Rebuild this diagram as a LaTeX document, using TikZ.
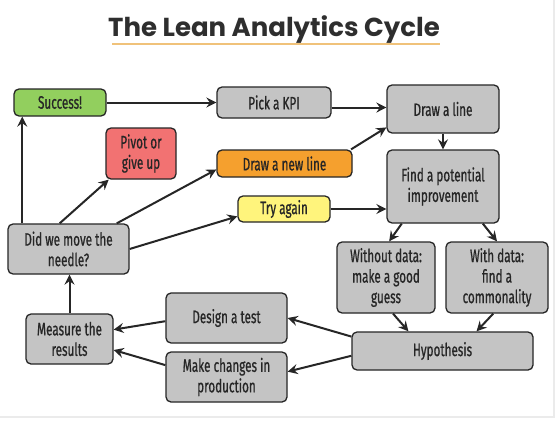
\documentclass[tikz,border=0pt]{standalone}
\usepackage{fontspec}
\setmainfont{Fira Sans}[FakeStretch=0.65, FakeBold=0.8]
\newfontfamily\titlefont{Poppins}
\usetikzlibrary{arrows.meta, calc}
\definecolor{boxgray}{HTML}{C4C4C4}
\definecolor{okgreen}{HTML}{92CF5E}
\definecolor{pivred}{HTML}{F27272}
\definecolor{neworange}{HTML}{F5A02E}
\definecolor{tryyellow}{HTML}{FFF47C}
\definecolor{linec}{HTML}{262626}
\definecolor{titlec}{HTML}{2E2E2E}
\definecolor{ulc}{HTML}{F0C27A}
\tikzset{%
    blk/.style={draw=linec, line width=1.3pt, rounded corners=5pt, fill=boxgray, align=center,
        inner sep=0pt, text=linec, font=\fontsize{18}{20.5}\selectfont},
    blkg/.style={blk, fill=okgreen},
    blkr/.style={blk, fill=pivred},
    blko/.style={blk, fill=neworange},
    blky/.style={blk, fill=tryyellow},
    pria/.style={line width=2pt, draw=linec, -{Stealth[length=10pt, width=10pt, inset=3.5pt]}},
}
\begin{document}
\begin{tikzpicture}[x=1pt, y=-1pt]
    \useasboundingbox (0,0) rectangle (559,420);
    \fill [white] (0,0) rectangle (559,420);
    \draw [black!8, line width=1.5pt] (0,417) -- (554,417) -- (554,0);
    \node [text=titlec, font=\titlefont\bfseries\fontsize{26}{30}\selectfont] (title) at (274,30) {The Lean Analytics Cycle};
    \draw [ulc, line width=1.5pt] (112,44) -- (440,44);
    \node [blkg, minimum width=92pt, minimum height=27pt] (success) at (60,102.5) {Success!};
    \node [blk, minimum width=114pt, minimum height=31pt] (kpi) at (274,102.5) {Pick a KPI};
    \node [blk, minimum width=112pt, minimum height=48pt] (drawline) at (443,109) {Draw a line};
    \node [blkr, minimum width=70pt, minimum height=51pt] (pivot) at (141,153.5) {Pivot or\\give up};
    \node [blko, minimum width=135pt, minimum height=27pt] (newline) at (284.5,163.5) {Draw a new line};
    \node [blky, minimum width=92pt, minimum height=26pt] (try) at (284,209) {Try again};
    \node [blk, minimum width=112pt, minimum height=73pt] (find) at (443,186.5) {Find a potential\\improvement};
    \node [blk, minimum width=121pt, minimum height=50pt] (did) at (68.5,249) {Did we move the\\needle?};
    \node [blk, minimum width=98pt, minimum height=71pt] (without) at (386,277.5) {Without data:\\make a good\\guess};
    \node [blk, minimum width=102pt, minimum height=71pt] (with) at (497,277.5) {With data:\\find a\\commonality};
    \node [blk, minimum width=121pt, minimum height=50pt] (design) at (226.5,318) {Design a test};
    \node [blk, minimum width=121pt, minimum height=50pt] (make) at (226.5,377) {Make changes in\\production};
    \node [blk, minimum width=87pt, minimum height=50pt] (measure) at (69.5,339) {Measure the\\results};
    \node [blk, minimum width=181pt, minimum height=38pt] (hyp) at (442.5,351) {Hypothesis};
    \draw [pria] (success.east) -- (kpi.west);
    \draw [pria] (kpi.-5) -- (kpi.-5 -| drawline.west);
    \draw [pria] (newline.12) -- (drawline.198);
    \draw [pria] (drawline.south) -- (find.north);
    \draw [pria] (try.east) -- (try.east -| find.west);
    \draw [pria] (find.222) -- (without.85);
    \draw [pria] (find.317) -- (with.north);
    \draw [pria] (without.281) -- (hyp.150);
    \draw [pria] (with.264) -- (hyp.30);
    \draw [pria] (hyp.171) -- (design.east);
    \draw [pria] (hyp.183) -- (make.5);
    \draw [pria] (design.183) -- (measure.12);
    \draw [pria] (make.169) -- (measure.-14);
    \draw [pria] (measure.north) -- (measure.north |- did.south);
    \draw [pria] (did.151) -- (did.151 |- success.south);
    \draw [pria] (did.109) -- (pivot.219);
    \draw [pria] (did.28) -- (newline.185);
    \draw [pria] (did.east) -- (try.189);
\end{tikzpicture}
\end{document}
